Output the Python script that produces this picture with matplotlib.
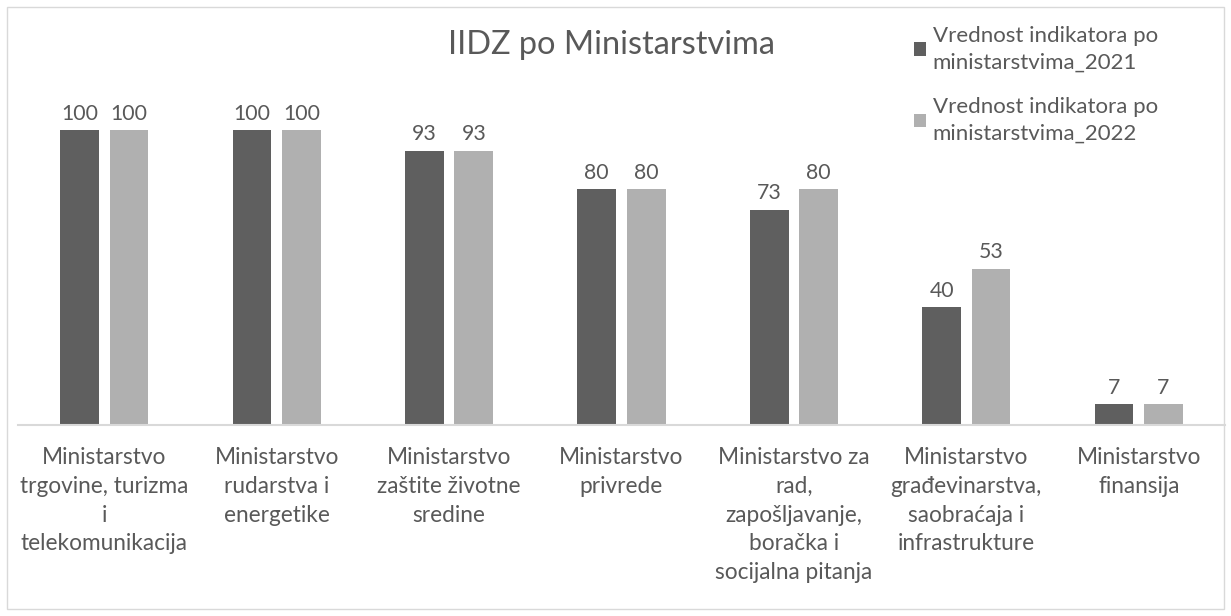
import numpy as np
import matplotlib.pyplot as plt
from matplotlib.patches import Rectangle

plt.rcParams['font.family'] = ['Lato', 'DejaVu Sans']

kategorije = ['Ministarstvo\ntrgovine, turizma\ni\ntelekomunikacija',
              'Ministarstvo\nrudarstva i\nenergetike',
              'Ministarstvo\nzaštite životne\nsredine',
              'Ministarstvo\nprivrede',
              'Ministarstvo za\nrad,\nzapošljavanje,\nboračka i\nsocijalna pitanja',
              'Ministarstvo\ngrađevinarstva,\nsaobraćaja i\ninfrastrukture',
              'Ministarstvo\nfinansija']
vrednost_2021 = [100, 100, 93, 80, 73, 40, 7]
vrednost_2022 = [100, 100, 93, 80, 80, 53, 7]
serije = ['Vrednost indikatora po\nministarstvima_2021',
          'Vrednost indikatora po\nministarstvima_2022']

tekst = '#595959'
boje = ['#5f5f5f', '#b0b0b0']

fig = plt.figure(figsize=(12.31, 6.16), dpi=100)
fig.patches.append(Rectangle((0.006, 0.011), 0.988, 0.978, transform=fig.transFigure,
                             fill=False, edgecolor='#d9d9d9', linewidth=1))
ax = fig.add_axes([18 / 1231, 191 / 616, 1207 / 1231, 295 / 616])

x = np.arange(len(kategorije))
w = 0.225
b1 = ax.bar(x - 0.1435, vrednost_2021, w, color=boje[0], label=serije[0])
b2 = ax.bar(x + 0.1435, vrednost_2022, w, color=boje[1], label=serije[1])
for bars in (b1, b2):
    ax.bar_label(bars, padding=4.5, fontsize=15.3, color=tekst)

ax.set_xlim(-0.5, len(kategorije) - 0.5)
ax.set_ylim(0, 100)
ax.set_yticks([])
for s in ['top', 'right', 'left']:
    ax.spines[s].set_visible(False)
ax.spines['bottom'].set_color('#d9d9d9')
ax.spines['bottom'].set_linewidth(1.5)
ax.set_xticks(x)
ax.set_xticklabels(kategorije, fontsize=16.3, color=tekst, linespacing=1.45)
ax.tick_params(axis='x', length=0, pad=16)

fig.text(0.497, 0.927, 'IIDZ po Ministarstvima', ha='center', va='center',
         fontsize=23.4, color=tekst)

leg = fig.legend(loc='upper left', bbox_to_anchor=(0.726, 0.991), frameon=False,
                 fontsize=16, labelcolor=tekst, handlelength=0.55, handleheight=0.55,
                 handletextpad=0.3, labelspacing=1.12)
for t in leg.get_texts():
    t.set_linespacing(1.42)

fig.savefig('out.png', dpi=100)
